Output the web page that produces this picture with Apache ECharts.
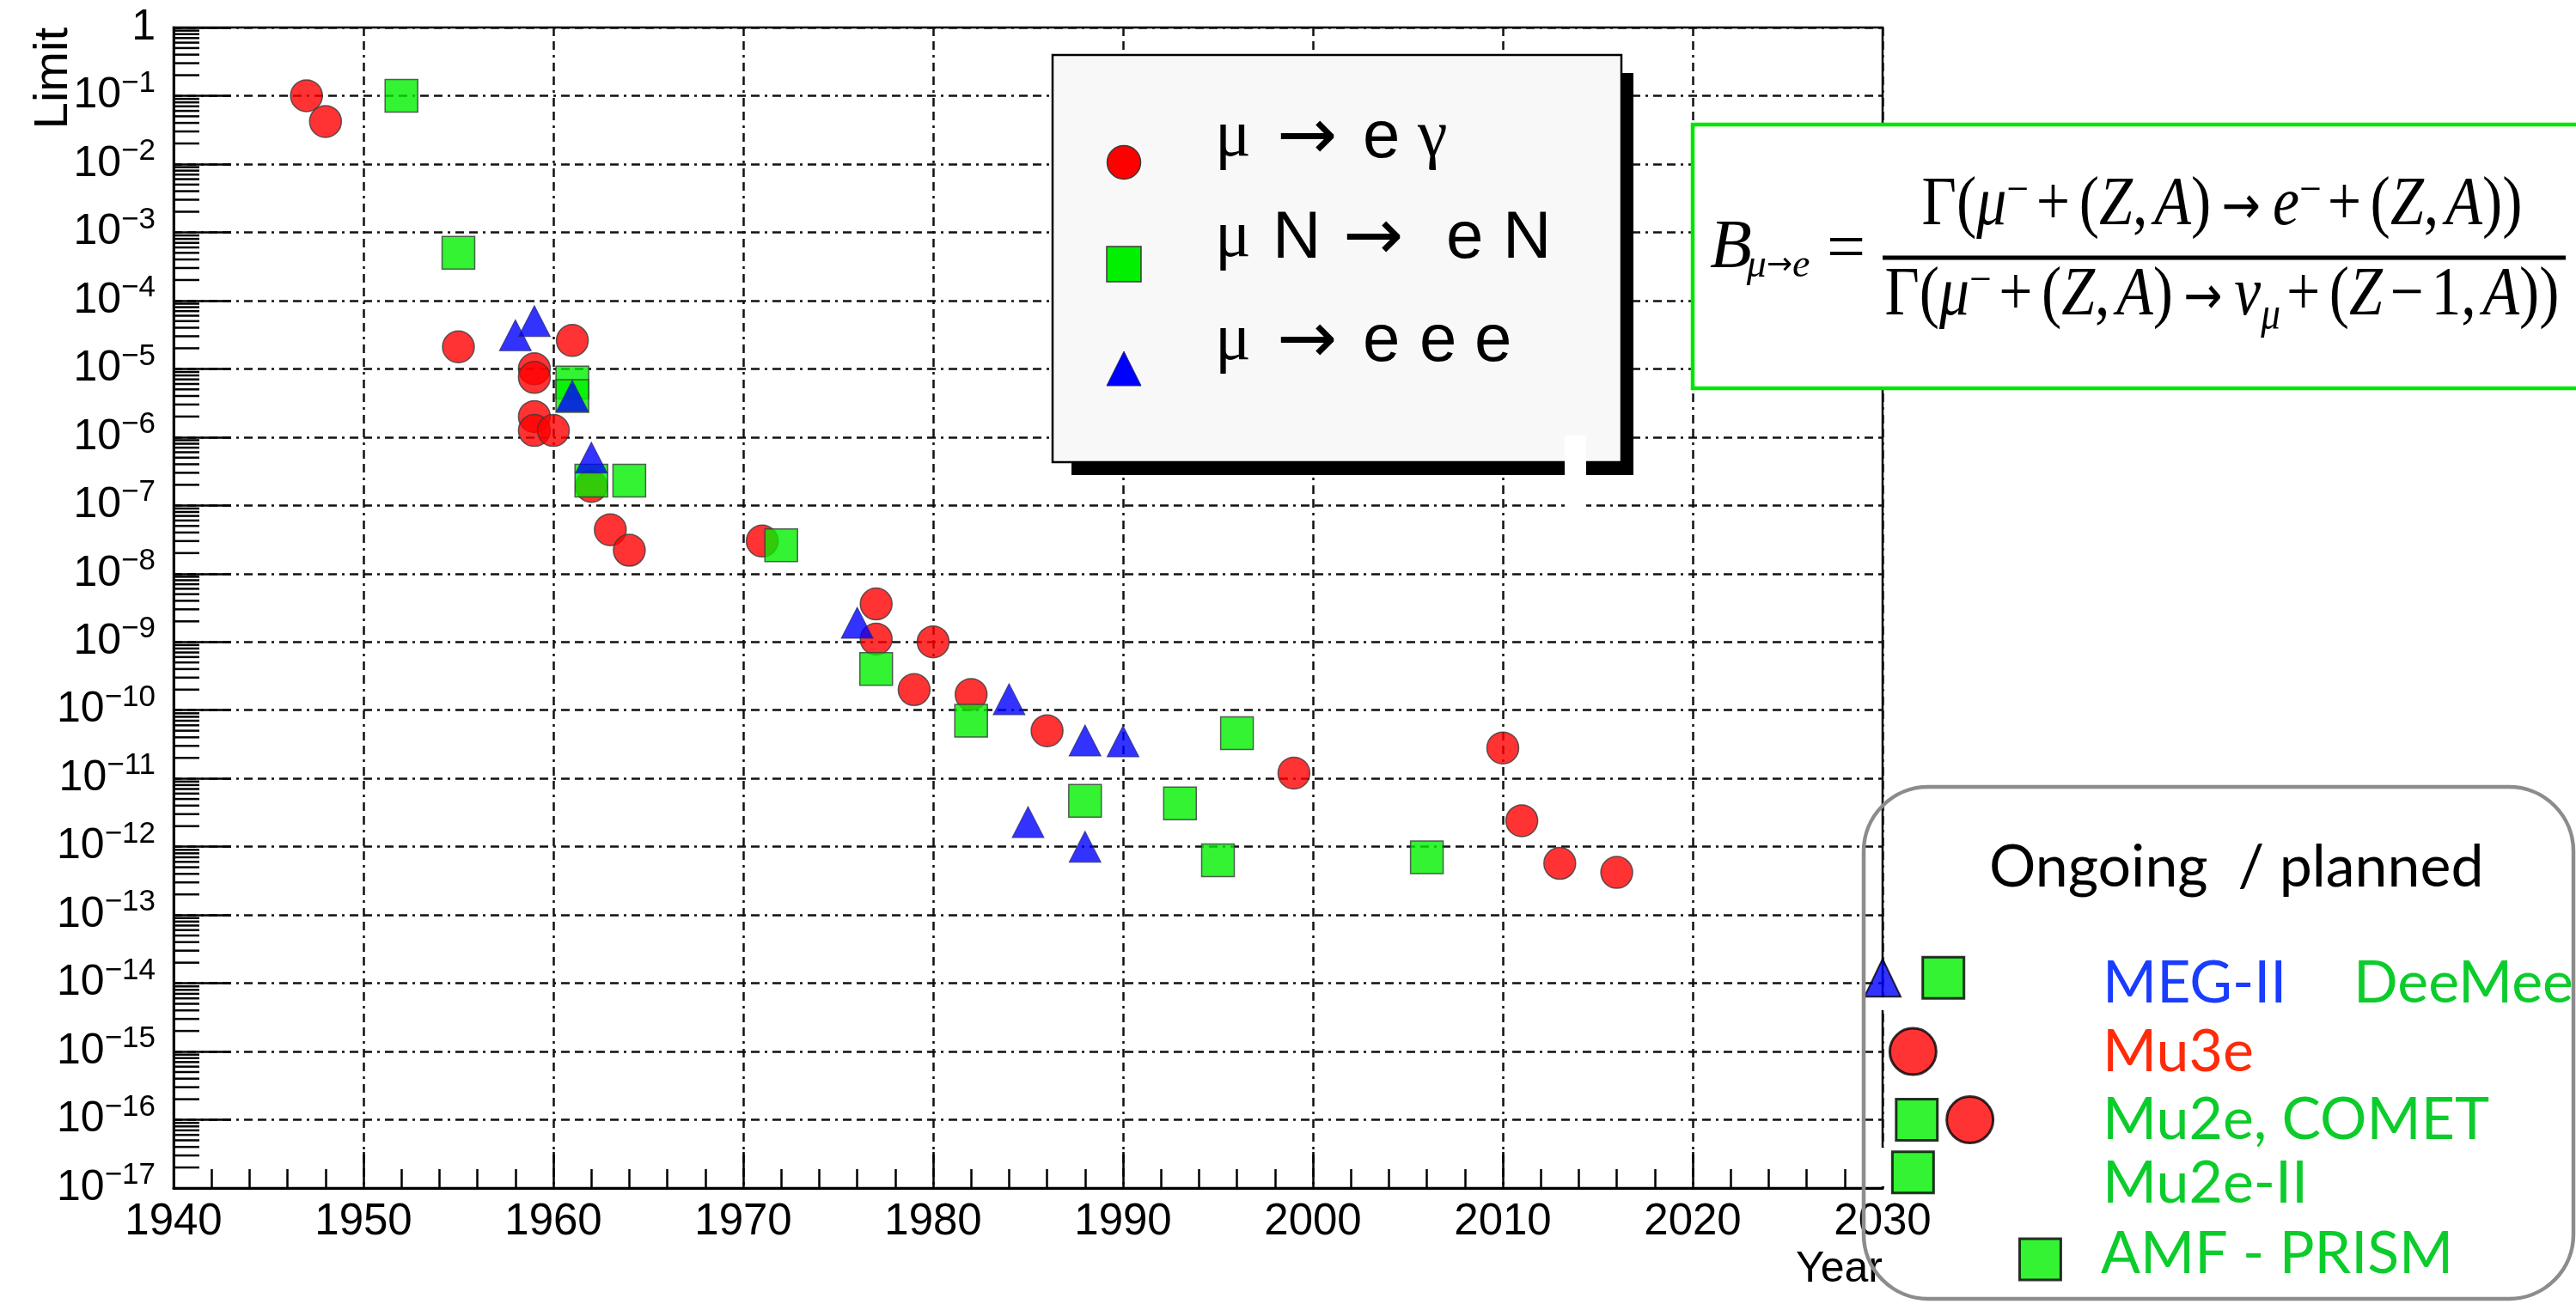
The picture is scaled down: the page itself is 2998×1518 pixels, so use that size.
<!DOCTYPE html>
<html>
<head>
<meta charset="utf-8">
<script src="https://cdn.jsdelivr.net/npm/echarts@6/dist/echarts.min.js"></script>
<style>
  html, body { margin: 0; padding: 0; background: #ffffff; }
  #chart { width: 2998px; height: 1518px; }
</style>
</head>
<body>
<div id="chart"></div>
<script>
// ---- measured upper limits: year of result, branching-ratio limit ----
// mu -> e gamma
const megYears  = [1947, 1948, 1955, 1959, 1959, 1961, 1959, 1959, 1960, 1962, 1963, 1964, 1971, 1977, 1977, 1979, 1980, 1982, 1986, 1999, 2010, 2011, 2013, 2016];
const megLimits = [1.0e-1, 4.2e-2, 2.1e-5, 1.0e-5, 7.5e-6, 2.6e-5, 2.0e-6, 1.25e-6, 1.25e-6, 1.9e-7, 4.4e-8, 2.2e-8, 3.0e-8, 3.6e-9, 1.1e-9, 2.0e-10, 1.0e-9, 1.7e-10, 5.0e-11, 1.2e-11, 2.8e-11, 2.4e-12, 5.7e-13, 4.2e-13];
// mu N -> e N
const convYears  = [1952, 1955, 1961, 1961, 1962, 1964, 1972, 1977, 1982, 1988, 1993, 1995, 1996, 2006];
const convLimits = [1.0e-1, 5.0e-4, 6.3e-6, 4.0e-6, 2.3e-7, 2.3e-7, 2.6e-8, 4.0e-10, 7.0e-11, 4.7e-12, 4.3e-12, 6.3e-13, 4.6e-11, 7.0e-13];
// mu -> e e e
const eeeYears  = [1958, 1959, 1961, 1962, 1976, 1984, 1985, 1988, 1988, 1990];
const eeeLimits = [3.1e-5, 5.0e-5, 4.0e-6, 5.0e-7, 1.9e-9, 1.45e-10, 2.3e-12, 3.6e-11, 1.0e-12, 3.5e-11];

// ---- ongoing / planned sensitivities ----
const plannedTriangleYears  = [2030.0];
const plannedTriangleLimits = [1.2e-14];
const plannedSquareYears    = [2033.2, 2031.8, 2031.6, 2038.3];
const plannedSquareLimits   = [1.2e-14, 1.0e-16, 1.7e-17, 9.0e-19];
const plannedCircleYears    = [2031.6, 2034.6];
const plannedCircleLimits   = [1.0e-15, 1.0e-16];
const plannedLabels = ['MEG-II', 'DeeMee', 'Mu3e', 'Mu2e, COMET', 'Mu2e-II', 'AMF - PRISM'];

// ---- axis ticks ----
const xTickYears   = [1940, 1950, 1960, 1970, 1980, 1990, 2000, 2010, 2020, 2030];
const decadeExps   = [0, -1, -2, -3, -4, -5, -6, -7, -8, -9, -10, -11, -12, -13, -14, -15, -16, -17];
const minorMultipliers = [2, 3, 4, 5, 6, 7, 8, 9];
const seriesNames = ['μ → e γ', 'μ N → e N', 'μ → e e e'];

const SANS = 'Liberation Sans';
const SERIF = 'Liberation Serif';
const HUMANIST = 'Lato';
const ARROW_FONT = 'DejaVu Sans';

const toLog = (xs, ys) => xs.map((x, i) => [x, Math.log10(ys[i])]);

// minor ticks of the logarithmic y scale, 2..9 x 10^n
const minorTickData = [];
decadeExps.slice(1).forEach(e => {
  minorMultipliers.forEach(k => minorTickData.push([xTickYears[0], e + Math.log10(k)]));
});

const gridDash = [10, 6, 10, 6, 3, 6];

const chart = echarts.init(document.getElementById('chart'), null, { renderer: 'canvas' });

// ---------- decorations: legend, formula, planned panel ----------
const graphics = [];

// legend box with drop shadow
graphics.push({ type: 'rect', z: 20, shape: { x: 1247, y: 85, width: 654, height: 468 }, style: { fill: '#000' } });
graphics.push({ type: 'rect', z: 21, shape: { x: 1225, y: 64, width: 662, height: 474 }, style: { fill: '#f8f8f8', stroke: '#000', lineWidth: 2.5 } });
graphics.push({ type: 'circle', z: 22, shape: { cx: 1308, cy: 189, r: 19.5 }, style: { fill: '#ff0000', stroke: '#3a3a3a', lineWidth: 1.5 } });
graphics.push({ type: 'rect', z: 22, shape: { x: 1288, y: 287, width: 40, height: 41 }, style: { fill: '#00f000', stroke: '#3a3a3a', lineWidth: 1.5 } });
graphics.push({ type: 'polygon', z: 22, shape: { points: [[1308, 409], [1328, 449], [1288, 449]] }, style: { fill: '#0000ff', stroke: '#2a2a6a', lineWidth: 1 } });

function glyph(text, x, y, family, size) {
  graphics.push({ type: 'text', z: 22, x: x, y: y,
    style: { text: text, fill: '#000', fontFamily: family, fontSize: size, align: 'left', verticalAlign: 'middle' } });
}
const LG = 78, AG = 84;
// μ → e γ
glyph('μ', 1414, 161, SERIF, LG); glyph('→', 1486, 163, ARROW_FONT, AG); glyph('e', 1586, 161, SANS, LG); glyph('γ', 1650, 161, SERIF, LG);
// μ N → e N
glyph('μ', 1414, 278, SERIF, LG); glyph('N', 1481, 278, SANS, LG); glyph('→', 1563, 280, ARROW_FONT, AG); glyph('e', 1683, 278, SANS, LG); glyph('N', 1749, 278, SANS, LG);
// μ → e e e
glyph('μ', 1414, 398, SERIF, LG); glyph('→', 1486, 400, ARROW_FONT, AG); glyph('e', 1586, 398, SANS, LG); glyph('e', 1652, 398, SANS, LG); glyph('e', 1716, 398, SANS, LG);
// small white strip crossing the legend's lower edge
graphics.push({ type: 'rect', z: 23, shape: { x: 1821, y: 507, width: 25, height: 86 }, style: { fill: '#ffffff' } });

// ---- conversion-rate definition, typeset token by token ----
const measureCtx = document.createElement('canvas').getContext('2d');
const MATH = {
  r:    { size: 80, italic: false, dy: 0 },
  i:    { size: 80, italic: true,  dy: 0 },
  a:    { size: 62, italic: false, dy: 4, family: ARROW_FONT },
  sup:  { size: 52, italic: false, dy: -17 },
  sub:  { size: 52, italic: true,  dy: 23 },
  bsub: { size: 46, italic: true,  dy: 20 },
  barr: { size: 36, italic: false, dy: 20, family: ARROW_FONT }
};
function mathGroup(tokens, anchorX, y, align, targetWidth) {
  let cursor = 0;
  const children = [];
  tokens.forEach(([k, t]) => {
    if (k === 'sp') { cursor += t; return; }
    const m = MATH[k];
    const family = m.family || SERIF;
    measureCtx.font = (m.italic ? 'italic ' : '') + m.size + 'px "' + family + '"';
    const w = measureCtx.measureText(t).width;
    children.push({ type: 'text', z: 22, x: cursor, y: m.dy,
      style: { text: t, fill: '#000', fontFamily: family, fontSize: m.size, fontStyle: m.italic ? 'italic' : 'normal',
               align: 'left', verticalAlign: 'middle' } });
    cursor += w;
  });
  const scale = targetWidth ? targetWidth / cursor : 1;
  const left = align === 'center' ? anchorX - cursor * scale / 2 : anchorX;
  return { type: 'group', z: 22, x: left, y: y, scaleX: scale, children: children };
}

graphics.push({ type: 'rect', z: 20, shape: { x: 1970, y: 145, width: 1060, height: 307 }, style: { fill: '#ffffff', stroke: '#00e600', lineWidth: 4.5 } });
graphics.push(mathGroup([['i', 'B'], ['sp', -6], ['bsub', 'μ'], ['barr', '→'], ['bsub', 'e']], 1990, 290, 'left'));
graphics.push(mathGroup([['r', '=']], 2126, 293, 'left'));
graphics.push(mathGroup([
  ['r', 'Γ('], ['i', 'μ'], ['sup', '−'], ['sp', 10], ['r', '+'], ['sp', 12], ['r', '('], ['i', 'Z'], ['r', ','], ['sp', 9],
  ['i', 'A'], ['r', ')'], ['sp', 14], ['a', '→'], ['sp', 16], ['i', 'e'], ['sup', '−'], ['sp', 8], ['r', '+'], ['sp', 12],
  ['r', '('], ['i', 'Z'], ['r', ','], ['sp', 9], ['i', 'A'], ['r', '))']
], 2586, 240, 'center', 699));
graphics.push({ type: 'rect', z: 22, shape: { x: 2191, y: 297.5, width: 795, height: 5 }, style: { fill: '#000' } });
graphics.push(mathGroup([
  ['r', 'Γ('], ['i', 'μ'], ['sup', '−'], ['sp', 10], ['r', '+'], ['sp', 12], ['r', '('], ['i', 'Z'], ['r', ','], ['sp', 9],
  ['i', 'A'], ['r', ')'], ['sp', 14], ['a', '→'], ['sp', 16], ['i', 'ν'], ['sub', 'μ'], ['sp', 8], ['r', '+'], ['sp', 12],
  ['r', '('], ['i', 'Z'], ['sp', 10], ['r', '−'], ['sp', 10], ['r', '1,'], ['sp', 9], ['i', 'A'], ['r', '))']
], 2586, 345, 'center', 785));

// ongoing / planned panel
graphics.push({ type: 'rect', z: 30, shape: { x: 2169, y: 916, width: 826, height: 596, r: 75 }, style: { fill: 'none', stroke: '#8c8c8c', lineWidth: 4.5 } });
graphics.push({ type: 'rect', z: 1, shape: { x: 2185, y: 1161, width: 12, height: 15 }, style: { fill: '#ffffff' } });
graphics.push({ type: 'rect', z: 1, shape: { x: 2185, y: 1336, width: 12, height: 45 }, style: { fill: '#ffffff' } });
function note(text, x, y, color) {
  graphics.push({ type: 'text', z: 31, x: x, y: y,
    style: { text: text, fill: color, fontFamily: HUMANIST, fontSize: 68, align: 'left', verticalAlign: 'middle' } });
}
const BLUE_T = '#1a3cff', GREEN_T = '#0ccc2c', RED_T = '#ff2a0a';
note('Ongoing  / planned', 2315, 1010, '#000');
note(plannedLabels[0], 2447, 1145, BLUE_T);
note(plannedLabels[1], 2739, 1145, GREEN_T);
note(plannedLabels[2], 2447, 1225, RED_T);
note(plannedLabels[3], 2447, 1304, GREEN_T);
note(plannedLabels[4], 2447, 1378, GREEN_T);
note(plannedLabels[5], 2445, 1460, GREEN_T);

const markerBorder = { borderColor: '#3a3a3a', borderWidth: 1.5 };

const option = {
  animation: false,
  backgroundColor: '#ffffff',
  grid: {
    left: 202, top: 32, right: 807, bottom: 135,
    show: true, borderColor: '#000', borderWidth: 2.5, backgroundColor: 'transparent',
    containLabel: false, outerBoundsMode: 'none'
  },
  xAxis: {
    type: 'value', min: xTickYears[0], max: xTickYears[xTickYears.length - 1], interval: 10,
    axisLine: { show: true, onZero: false, lineStyle: { color: '#000', width: 3 } },
    axisTick: { show: true, inside: true, length: 42, lineStyle: { color: '#000', width: 2.5 } },
    minorTick: { show: true, splitNumber: 5, length: 22, lineStyle: { color: '#000', width: 2.5 } },
    axisLabel: { color: '#000', fontFamily: SANS, fontSize: 51, margin: 14, formatter: v => String(v) },
    splitLine: { show: true, lineStyle: { color: '#111', width: 2.5, type: gridDash } },
    name: 'Year', nameLocation: 'end', nameGap: 0, nameMoveOverlap: false,
    nameTextStyle: { color: '#000', fontFamily: SANS, fontSize: 50, align: 'right', verticalAlign: 'top', padding: [70, 0, 0, 0] }
  },
  yAxis: {
    type: 'value', min: decadeExps[decadeExps.length - 1], max: decadeExps[0], interval: 1,
    axisLine: { show: true, onZero: false, lineStyle: { color: '#000', width: 3 } },
    axisTick: { show: true, inside: true, length: 67, lineStyle: { color: '#000', width: 2.5 } },
    axisLabel: {
      color: '#000', margin: 21,
      formatter: v => {
        const e = Math.round(v);
        return e === 0 ? '{b|1}' : '{b|10}{s|−' + (-e) + '}';
      },
      rich: {
        b: { fontFamily: SANS, fontSize: 50, lineHeight: 50, color: '#000' },
        s: { fontFamily: SANS, fontSize: 35, lineHeight: 35, padding: [0, 0, 29, 0], color: '#000' }
      }
    },
    splitLine: { show: true, lineStyle: { color: '#111', width: 2.5, type: gridDash } },
    name: 'Limit', nameLocation: 'end', nameRotate: 90, nameGap: 0, nameMoveOverlap: false,
    nameTextStyle: { color: '#000', fontFamily: SANS, fontSize: 56, align: 'right', verticalAlign: 'bottom', padding: [0, 0, 111, 0] }
  },
  series: [
    {
      type: 'custom', name: 'minor ticks', silent: true, z: 1,
      data: minorTickData,
      renderItem: (params, api) => {
        const p = api.coord([api.value(0), api.value(1)]);
        return { type: 'line', shape: { x1: p[0], y1: p[1], x2: p[0] + 30, y2: p[1] }, style: { stroke: '#000', lineWidth: 2.5 } };
      }
    },
    { name: seriesNames[0], type: 'scatter', symbol: 'circle', symbolSize: 37, z: 3,
      itemStyle: Object.assign({ color: '#ff0000' }, markerBorder), data: toLog(megYears, megLimits) },
    { name: seriesNames[1], type: 'scatter', symbol: 'rect', symbolSize: 38, z: 3,
      itemStyle: Object.assign({ color: '#00f000' }, markerBorder), data: toLog(convYears, convLimits) },
    { name: seriesNames[2], type: 'scatter', symbol: 'triangle', symbolSize: [37, 36], z: 3,
      itemStyle: { color: '#0000ff', borderColor: '#2a2a6a', borderWidth: 1 }, data: toLog(eeeYears, eeeLimits) },
    { name: 'planned ' + seriesNames[0], type: 'scatter', symbol: 'circle', symbolSize: 54, z: 4, clip: false,
      itemStyle: { color: '#ff0000', borderColor: '#000', borderWidth: 3 }, data: toLog(plannedCircleYears, plannedCircleLimits) },
    { name: 'planned ' + seriesNames[1], type: 'scatter', symbol: 'rect', symbolSize: 48, z: 4, clip: false,
      itemStyle: { color: '#00f000', borderColor: '#000', borderWidth: 3 }, data: toLog(plannedSquareYears, plannedSquareLimits) },
    { name: 'planned ' + seriesNames[2], type: 'scatter', symbol: 'triangle', symbolSize: [42, 44], z: 4, clip: false,
      itemStyle: { color: '#0000ff', borderColor: '#000', borderWidth: 2 }, data: toLog(plannedTriangleYears, plannedTriangleLimits) }
  ],
  graphic: graphics
};

chart.setOption(option);
</script>
</body>
</html>
